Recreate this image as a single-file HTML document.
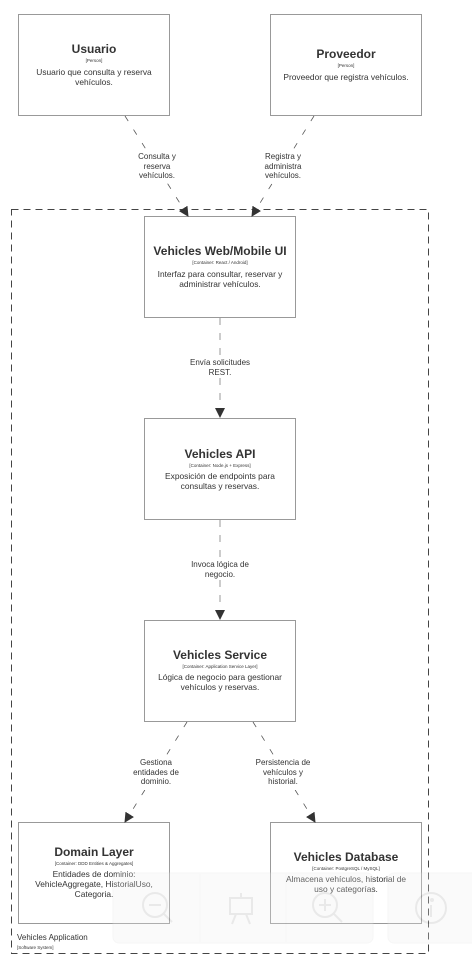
<!DOCTYPE html>
<html><head><meta charset="utf-8">
<style>
html,body{margin:0;padding:0;background:#fff;}
svg{display:block;font-family:"Liberation Sans","DejaVu Sans",sans-serif;}
</style></head>
<body>
<svg width="472" height="962" viewBox="0 0 472 962" xmlns="http://www.w3.org/2000/svg">
<defs>
<marker id="ah" markerWidth="10" markerHeight="10" refX="9" refY="5" orient="auto" markerUnits="userSpaceOnUse">
<path d="M0,0 L10,5 L0,10 z" fill="#333"/>
</marker>
</defs>
<rect width="472" height="962" fill="#fff"/>

<rect x="11.5" y="209.5" width="417" height="744" fill="none" stroke="#444" stroke-width="1" stroke-dasharray="7,5"/>
<text x="17" y="940" font-size="8" fill="#333">Vehicles Application</text>
<text x="17" y="949" font-size="4.5" fill="#333">[Software System]</text>

<g fill="#fff" stroke="#999" stroke-width="1">
<rect x="18.5" y="14.5" width="151" height="101"/>
<rect x="270.5" y="14.5" width="151" height="101"/>
<rect x="144.5" y="216.5" width="151" height="101"/>
<rect x="144.5" y="418.5" width="151" height="101"/>
<rect x="144.5" y="620.5" width="151" height="101"/>
<rect x="18.5" y="822.5" width="151" height="101"/>
<rect x="270.5" y="822.5" width="151" height="101"/>
</g>

<g text-anchor="middle" fill="#333">
<text x="94" y="53" font-size="12" font-weight="bold">Usuario</text>
<text x="94" y="62" font-size="4.5">[Person]</text>
<text x="94" y="75" font-size="8.4">Usuario que consulta y reserva</text>
<text x="94" y="85" font-size="8.4">vehículos.</text>

<text x="346" y="58" font-size="12" font-weight="bold">Proveedor</text>
<text x="346" y="67" font-size="4.5">[Person]</text>
<text x="346" y="80" font-size="8.4">Proveedor que registra vehículos.</text>

<text x="220" y="255" font-size="12" font-weight="bold">Vehicles Web/Mobile UI</text>
<text x="220" y="264" font-size="4.5">[Container: React / Android]</text>
<text x="220" y="277" font-size="8.4">Interfaz para consultar, reservar y</text>
<text x="220" y="287" font-size="8.4">administrar vehículos.</text>

<text x="220" y="458" font-size="12" font-weight="bold">Vehicles API</text>
<text x="220" y="467" font-size="4.5">[Container: Node.js + Express]</text>
<text x="220" y="479" font-size="8.4">Exposición de endpoints para</text>
<text x="220" y="489" font-size="8.4">consultas y reservas.</text>

<text x="220" y="659" font-size="12" font-weight="bold">Vehicles Service</text>
<text x="220" y="668" font-size="4.5">[Container: Application Service Layer]</text>
<text x="220" y="680" font-size="8.4">Lógica de negocio para gestionar</text>
<text x="220" y="690" font-size="8.4">vehículos y reservas.</text>

<text x="94" y="856" font-size="12" font-weight="bold">Domain Layer</text>
<text x="94" y="865" font-size="4.5">[Container: DDD Entities &amp; Aggregates]</text>
<text x="94" y="877" font-size="8.4">Entidades de dominio:</text>
<text x="94" y="887" font-size="8.4">VehicleAggregate, HistorialUso,</text>
<text x="94" y="897" font-size="8.4">Categoria.</text>

<text x="346" y="861" font-size="12" font-weight="bold">Vehicles Database</text>
<text x="346" y="870" font-size="4.5">[Container: PostgreSQL / MySQL]</text>
<text x="346" y="882" font-size="8.4">Almacena vehículos, historial de</text>
<text x="346" y="892" font-size="8.4">uso y categorías.</text>
</g>

<g stroke="#555" stroke-width="0.8" fill="none" stroke-dasharray="6,10" marker-end="url(#ah)">
<line x1="125" y1="116" x2="188" y2="216"/>
<line x1="314" y1="116" x2="252" y2="216"/>
<line x1="187" y1="722" x2="125" y2="822"/>
<line x1="253" y1="722" x2="315" y2="822"/>
</g>
<g stroke="#aaa" stroke-width="1.2" fill="none" stroke-dasharray="7,8">
<line x1="220" y1="318" x2="220" y2="410"/>
<line x1="220" y1="520" x2="220" y2="612"/>
</g>
<g fill="#333">
<path d="M215,408 L225,408 L220,418 z"/>
<path d="M215,610 L225,610 L220,620 z"/>
</g>

<g fill="#fff">
<rect x="131" y="150" width="52" height="32"/>
<rect x="256" y="150" width="54" height="32"/>
<rect x="183" y="356" width="74" height="22"/>
<rect x="183" y="558" width="74" height="22"/>
<rect x="128" y="758" width="56" height="32"/>
<rect x="248" y="758" width="70" height="32"/>
</g>
<g text-anchor="middle" fill="#333" font-size="8">
<text x="157" y="159">Consulta y</text>
<text x="157" y="169">reserva</text>
<text x="157" y="178">vehículos.</text>
<text x="283" y="159">Registra y</text>
<text x="283" y="169">administra</text>
<text x="283" y="178">vehículos.</text>
<text x="220" y="365">Envía solicitudes</text>
<text x="220" y="375">REST.</text>
<text x="220" y="567">Invoca lógica de</text>
<text x="220" y="577">negocio.</text>
<text x="156" y="765">Gestiona</text>
<text x="156" y="775">entidades de</text>
<text x="156" y="784">dominio.</text>
<text x="283" y="765">Persistencia de</text>
<text x="283" y="775">vehículos y</text>
<text x="283" y="784">historial.</text>
</g>

<g opacity="0.25">
<rect x="113" y="873" width="260" height="70" rx="6" fill="#eee" stroke="#ddd"/>
<line x1="200" y1="874" x2="200" y2="942" stroke="#ddd"/>
<line x1="286" y1="874" x2="286" y2="942" stroke="#ddd"/>
<rect x="388" y="873" width="90" height="70" rx="6" fill="#eee" stroke="#ddd"/>
<g stroke="#aaa" stroke-width="2" fill="none">
<circle cx="155" cy="905" r="12"/><line x1="164" y1="914" x2="172" y2="922"/><line x1="149" y1="905" x2="161" y2="905"/>
<rect x="230" y="898" width="22" height="16"/><line x1="241" y1="893" x2="241" y2="898"/><line x1="236" y1="914" x2="232" y2="924"/><line x1="246" y1="914" x2="250" y2="924"/>
<circle cx="325" cy="905" r="12"/><line x1="334" y1="914" x2="342" y2="922"/><line x1="319" y1="905" x2="331" y2="905"/><line x1="325" y1="899" x2="325" y2="911"/>
<circle cx="431" cy="908" r="15"/><line x1="431" y1="905" x2="431" y2="917"/><circle cx="432" cy="900" r="1"/>
</g>
</g>
</svg>
</body></html>
